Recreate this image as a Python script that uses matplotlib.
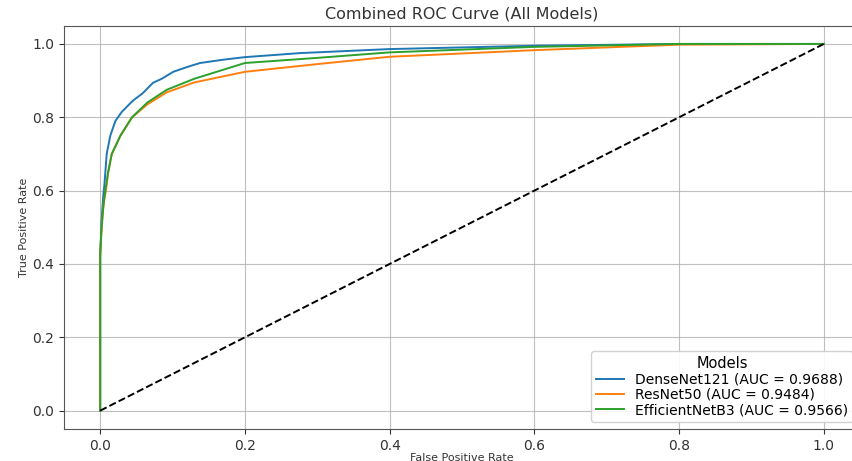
import matplotlib
matplotlib.use("Agg")
import matplotlib.pyplot as plt

dense_fpr = [0, 0.0, 0.002, 0.004, 0.006, 0.009, 0.014, 0.021, 0.03, 0.045, 0.059, 0.073, 0.085, 0.101, 0.12, 0.138, 0.17, 0.2, 0.276, 0.4, 0.6, 0.8, 1.0]
dense_tpr = [0, 0.42, 0.52, 0.58, 0.62, 0.70, 0.75, 0.79, 0.815, 0.845, 0.866, 0.894, 0.905, 0.924, 0.937, 0.948, 0.957, 0.964, 0.975, 0.986, 0.995, 1.0, 1.0]

res_fpr = [0, 0.0, 0.002, 0.005, 0.008, 0.011, 0.016, 0.028, 0.044, 0.065, 0.092, 0.13, 0.2, 0.3, 0.4, 0.6, 0.8, 1.0]
res_tpr = [0, 0.42, 0.50, 0.57, 0.60, 0.65, 0.70, 0.75, 0.80, 0.835, 0.868, 0.895, 0.924, 0.945, 0.965, 0.983, 0.998, 1.0]

eff_fpr = [0, 0.0, 0.002, 0.004, 0.007, 0.011, 0.016, 0.028, 0.044, 0.065, 0.092, 0.13, 0.2, 0.3, 0.4, 0.6, 0.8, 1.0]
eff_tpr = [0, 0.43, 0.50, 0.55, 0.60, 0.65, 0.70, 0.75, 0.80, 0.84, 0.875, 0.905, 0.948, 0.962, 0.977, 0.992, 1.0, 1.0]

labels = ["DenseNet121 (AUC = 0.9688)", "ResNet50 (AUC = 0.9484)", "EfficientNetB3 (AUC = 0.9566)"]
colors = ["#1f77b4", "#ff7f0e", "#2ca02c"]

fig = plt.figure(figsize=(8.52, 4.61), dpi=100)
ax = fig.add_axes([64/852, 32/461, (860-64)/852, (429-25.6)/461])

for fpr, tpr, lab, c in zip([dense_fpr, res_fpr, eff_fpr], [dense_tpr, res_tpr, eff_tpr], labels, colors):
    ax.plot(fpr, tpr, color=c, lw=1.4, label=lab)
ax.plot([0, 1], [0, 1], "k--", lw=1.4)

ax.set_xlim(-0.05, 1.05)
ax.set_ylim(-0.05, 1.05)
ax.set_xticks([0, 0.2, 0.4, 0.6, 0.8, 1.0])
ax.set_yticks([0, 0.2, 0.4, 0.6, 0.8, 1.0])
ax.tick_params(labelsize=10, colors="#333333")
ax.grid(True, color="#b0b0b0", lw=0.8, alpha=0.8)
for s in ax.spines.values():
    s.set_color("#555555")
ax.set_title("Combined ROC Curve (All Models)", fontsize=11.5, color="#333333", pad=5)
ax.set_xlabel("False Positive Rate", fontsize=8, color="#333333", labelpad=0)
ax.set_ylabel("True Positive Rate", fontsize=8, color="#333333", labelpad=2)
leg = ax.legend(title="Models", loc="lower right", bbox_to_anchor=(1.0, 0.0), fontsize=10,
                title_fontsize=10.5, framealpha=0.9, labelspacing=0.1, handlelength=2.0,
                borderpad=0.35)

fig.savefig("out.png", dpi=100)
